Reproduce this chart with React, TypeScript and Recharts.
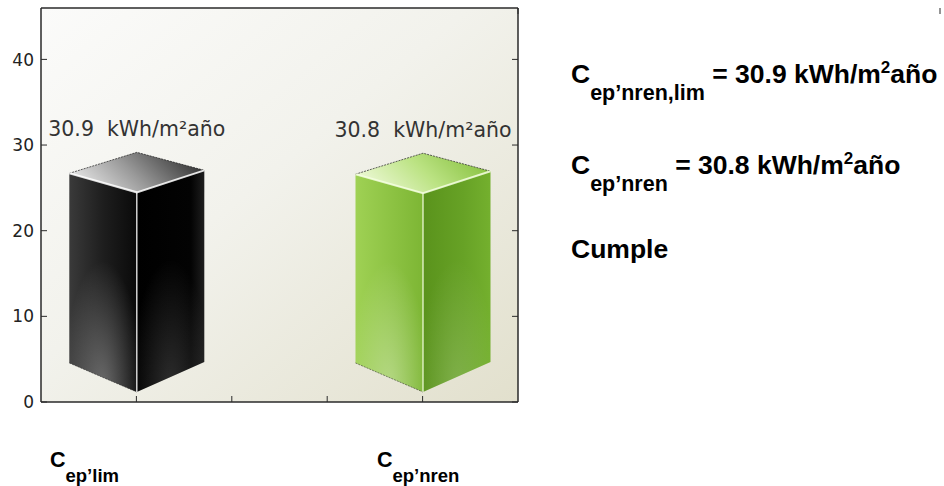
import React from "react";
import {
  BarChart, Bar, XAxis, YAxis, CartesianGrid, LabelList,
} from "recharts";

// values
const categories = ["ep’lim", "ep’nren"];   // subscript of C under each bar
const positions = [1, 4];                      // slot on the 0..5 x scale
const values = [30.9, 30.8];
const yTicks = [0, 10, 20, 30, 40];
const xTicks = [1, 2, 3, 4];
const unit = "kWh/m²año";
const limitValue = 30.9;
const actualValue = 30.8;
const verdict = "Cumple";

const data = categories.map((c, i) => ({ name: c, pos: positions[i], value: values[i], kind: i }));

const SANS = "'Liberation Sans', Arial, sans-serif";
const DEJAVU = "'DejaVu Sans', sans-serif";
const AXIS = "#2a2a2a";
const TICK = 6;   // inward tick length
const TS = 6;     // recharts tickSize (tick label offset), not drawn
const TM = 2;     // recharts tickMargin

function Defs() {
  return (
    <svg width={0} height={0} style={{ position: "absolute" }}>
      <defs>
        <linearGradient id="bg" x1="0" y1="0" x2="1" y2="1">
          <stop offset="0" stopColor="#fbfbfa" />
          <stop offset="0.45" stopColor="#f2f2ec" />
          <stop offset="1" stopColor="#e2e0cd" />
        </linearGradient>

        <linearGradient id="k-left" x1="0" y1="0" x2="1" y2="0">
          <stop offset="0" stopColor="#3a3a3a" />
          <stop offset="0.5" stopColor="#1e1e1e" />
          <stop offset="1" stopColor="#0a0a0a" />
        </linearGradient>
        <linearGradient id="k-right" x1="0" y1="0" x2="1" y2="0">
          <stop offset="0" stopColor="#000" />
          <stop offset="0.8" stopColor="#030303" />
          <stop offset="1" stopColor="#1e1e1e" />
        </linearGradient>
        <linearGradient id="k-top" x1="0" y1="0.6" x2="1" y2="0.3">
          <stop offset="0" stopColor="#e8e8e8" />
          <stop offset="0.45" stopColor="#9a9a9a" />
          <stop offset="1" stopColor="#2e2e2e" />
        </linearGradient>

        <linearGradient id="g-left" x1="0" y1="0" x2="1" y2="0">
          <stop offset="0" stopColor="#9fd154" />
          <stop offset="1" stopColor="#7db634" />
        </linearGradient>
        <linearGradient id="g-right" x1="0" y1="0" x2="1" y2="0">
          <stop offset="0" stopColor="#5a931c" />
          <stop offset="0.6" stopColor="#67a226" />
          <stop offset="1" stopColor="#74b02e" />
        </linearGradient>
        <linearGradient id="g-top" x1="0" y1="0.6" x2="1" y2="0.3">
          <stop offset="0" stopColor="#eef9d8" />
          <stop offset="0.5" stopColor="#bce384" />
          <stop offset="1" stopColor="#86c03e" />
        </linearGradient>

        <radialGradient id="glow" cx="0.5" cy="1" r="0.6">
          <stop offset="0" stopColor="#fff" stopOpacity="0.35" />
          <stop offset="1" stopColor="#fff" stopOpacity="0" />
        </radialGradient>
      </defs>
    </svg>
  );
}

const pt = (p: number[]) => `${p[0]},${p[1]}`;

function Box3D(props: any) {
  const { x, y, width, height, payload } = props;
  if (x == null || y == null) return null;
  const k = payload.kind === 0 ? "k" : "g";
  const cx = x + width / 2;
  const hw = width / 2;
  const base = y + height;
  const back = [cx, y + 15], L = [cx - hw, y + 36], R = [cx + hw, y + 33], F = [cx, y + 55];
  const bl = [cx - hw, base - 39], bf = [cx, base - 10], br = [cx + hw, base - 40];
  const edge = k === "k" ? "#ffffff" : "#f4ffe0";
  return (
    <g>
      <polygon points={`${pt(L)} ${pt(F)} ${pt(bf)} ${pt(bl)}`} fill={`url(#${k}-left)`} />
      <polygon points={`${pt(F)} ${pt(R)} ${pt(br)} ${pt(bf)}`} fill={`url(#${k}-right)`} />
      <polygon points={`${pt(L)} ${pt(F)} ${pt(bf)} ${pt(bl)}`} fill="url(#glow)" />
      <polygon points={`${pt(F)} ${pt(R)} ${pt(br)} ${pt(bf)}`} fill="url(#glow)" opacity={0.5} />
      <polygon points={`${pt(back)} ${pt(R)} ${pt(F)} ${pt(L)}`} fill={`url(#${k}-top)`} />
      <polyline points={`${pt(L)} ${pt(back)} ${pt(R)}`} fill="none" stroke="#222" strokeWidth={1} strokeDasharray="2 1" opacity={0.7} />
      <polyline points={`${pt(bl)} ${pt(bf)}`} fill="none" stroke="#222" strokeWidth={1} strokeDasharray="2 1" opacity={0.5} />
      <polyline points={`${pt(L)} ${pt(F)} ${pt(R)}`} fill="none" stroke={edge} strokeWidth={2} opacity={0.85} />
      <line x1={F[0]} y1={F[1]} x2={bf[0]} y2={bf[1]} stroke={edge} strokeWidth={1.5} opacity={0.8} />
    </g>
  );
}

function ValueLabel(props: any) {
  const { x, y, width, value } = props;
  return (
    <text x={x + width / 2} y={y - 1} textAnchor="middle" fontFamily={DEJAVU} fontSize={20.5}
      fill="#333" style={{ whiteSpace: "pre" }}>
      {`${Number(value).toFixed(1)}  ${unit}`}
    </text>
  );
}

// inward tick marks (matplotlib style); the axis line sits TS + TM away from the label point
function LeftTick(props: any) {
  const { x, y, payload } = props;
  const ax = x + TS + 7;
  return (
    <g>
      <line x1={ax} y1={y} x2={ax + TICK} y2={y} stroke={AXIS} strokeWidth={1} />
      <text x={ax - 7} y={y} dy="0.36em" textAnchor="end" fontFamily={DEJAVU} fontSize={17} fill="#222">
        {payload.value}
      </text>
    </g>
  );
}
function RightTick(props: any) {
  const { x, y } = props;
  const ax = x - TS - TM;
  return <line x1={ax} y1={y} x2={ax - TICK} y2={y} stroke={AXIS} strokeWidth={1} />;
}
function BottomTick(props: any) {
  const { x, y } = props;
  const ay = y - TS - TM;
  return <line x1={x} y1={ay} x2={x} y2={ay - TICK} stroke={AXIS} strokeWidth={1} />;
}
function TopTick(props: any) {
  const { x, y } = props;
  const ay = y + TS + TM;
  return <line x1={x} y1={ay} x2={x} y2={ay + TICK} stroke={AXIS} strokeWidth={1} />;
}

function TextBlock() {
  return (
    <svg width={944} height={486} style={{ position: "absolute", left: 0, top: 0, pointerEvents: "none" }}>
      <g fontFamily={SANS} fontWeight="bold" fill="#000" style={{ whiteSpace: "pre" }}>
        <text x={571} y={83} fontSize={26.5}>
          <tspan>C</tspan>
          <tspan dy={17} fontSize={21.5}>ep’nren,lim</tspan>
          <tspan dy={-17}>{` = ${limitValue.toFixed(1)} kWh/m`}</tspan>
          <tspan dy={-10} fontSize={17}>2</tspan>
          <tspan dy={10}>año</tspan>
        </text>
        <text x={571} y={174} fontSize={26.5}>
          <tspan>C</tspan>
          <tspan dy={17} fontSize={21.5}>ep’nren</tspan>
          <tspan dy={-17}>{` = ${actualValue.toFixed(1)} kWh/m`}</tspan>
          <tspan dy={-10} fontSize={17}>2</tspan>
          <tspan dy={10}>año</tspan>
        </text>
        <text x={571} y={258} fontSize={26.5}>{verdict}</text>

        {categories.map((c, i) => (
          <text key={c} x={i === 0 ? 50 : 377} y={467} fontSize={21.5}>
            <tspan>C</tspan>
            <tspan dy={15} fontSize={18.5}>{c}</tspan>
          </text>
        ))}
      </g>
    </svg>
  );
}

export default function App() {
  return (
    <div style={{ position: "absolute", left: 0, top: 0, width: 944, height: 486, background: "#fff" }}>
      <Defs />
      <BarChart width={944} height={486} data={data} margin={{ top: 0, right: 416, bottom: 54, left: 0 }}>
        <CartesianGrid xAxisId="b" yAxisId="l" horizontal={false} vertical={false} fill="url(#bg)" />
        <XAxis xAxisId="b" dataKey="pos" type="number" domain={[0, 5]} ticks={xTicks} allowDataOverflow
          height={30} tick={<BottomTick />} tickSize={TS} tickMargin={TM} tickLine={false}
          axisLine={{ stroke: AXIS, strokeWidth: 1.5 }} />
        <XAxis xAxisId="t" orientation="top" type="number" domain={[0, 5]} ticks={xTicks} allowDataOverflow
          height={8} tick={<TopTick />} tickSize={TS} tickMargin={TM} tickLine={false}
          axisLine={{ stroke: AXIS, strokeWidth: 1.5 }} />
        <YAxis yAxisId="l" type="number" domain={[0, 46]} ticks={yTicks} allowDataOverflow width={41}
          tick={<LeftTick />} tickSize={TS} tickMargin={7} tickLine={false}
          axisLine={{ stroke: AXIS, strokeWidth: 1.5 }} />
        <YAxis yAxisId="r" orientation="right" type="number" domain={[0, 46]} ticks={yTicks} allowDataOverflow
          width={10} tick={<RightTick />} tickSize={TS} tickMargin={TM} tickLine={false}
          axisLine={{ stroke: AXIS, strokeWidth: 1.5 }} />
        <Bar xAxisId="b" yAxisId="l" dataKey="value" barSize={135} shape={<Box3D />} isAnimationActive={false}>
          <LabelList dataKey="value" content={<ValueLabel />} />
        </Bar>
      </BarChart>
      <TextBlock />
    </div>
  );
}
